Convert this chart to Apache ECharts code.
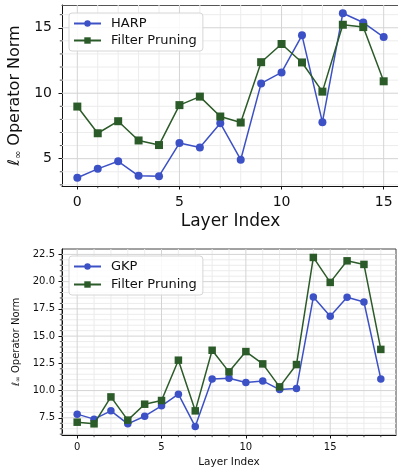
<!DOCTYPE html>
<html>
<head>
<meta charset="utf-8">
<script src="https://cdn.jsdelivr.net/npm/echarts@6/dist/echarts.min.js"></script>
<style>
  html, body { margin: 0; padding: 0; background: #ffffff; }
  #chart { width: 398px; height: 468px; }
</style>
</head>
<body>
<div id="chart"></div>
<script>
// Layer-wise l-infinity operator norms
const harpLayers = [0, 1, 2, 3, 4, 5, 6, 7, 8, 9, 10, 11, 12, 13, 14, 15];
const harpNorm = [3.54, 4.22, 4.80, 3.69, 3.66, 6.19, 5.86, 7.71, 4.92, 10.75, 11.59, 14.42, 7.79, 16.11, 15.40, 14.29];
const harpFilterNorm = [8.98, 6.94, 7.86, 6.39, 6.04, 9.09, 9.74, 8.22, 7.76, 12.37, 13.76, 12.35, 10.12, 15.23, 15.05, 10.91];

const gkpLayers = [0, 1, 2, 3, 4, 5, 6, 7, 8, 9, 10, 11, 12, 13, 14, 15, 16, 17, 18];
const gkpNorm = [7.84, 7.38, 8.14, 6.95, 7.65, 8.60, 9.67, 6.70, 11.07, 11.14, 10.74, 10.89, 10.09, 10.19, 18.58, 16.82, 18.56, 18.13, 11.07];
const gkpFilterNorm = [7.10, 6.95, 9.42, 7.29, 8.75, 9.09, 12.79, 8.14, 13.70, 11.72, 13.58, 12.45, 10.34, 12.39, 22.22, 19.93, 21.91, 21.58, 13.78];

// Tick labels
const topXTicks = [0, 5, 10, 15];
const topYTicks = [5, 10, 15];
const bottomXTicks = [0, 5, 10, 15];
const bottomYTicks = [7.5, 10, 12.5, 15, 17.5, 20, 22.5];

const FONT = 'DejaVu Sans';
const BLUE = '#3d51c6';
const GREEN = '#2b5b28';

// Axis range with a 5% margin on each side
function padded(values) {
  const lo = Math.min(...values), hi = Math.max(...values);
  const m = (hi - lo) * 0.05;
  return [lo - m, hi + m];
}

// Minor tick positions: multiples of step inside [lo, hi] that are not major ticks
function minorTicks(range, step, majors) {
  const out = [];
  const start = Math.ceil(range[0] / step - 1e-9);
  const end = Math.floor(range[1] / step + 1e-9);
  for (let k = start; k <= end; k++) {
    const v = +(k * step).toFixed(6);
    if (!majors.some(m => Math.abs(m - v) < 1e-6)) out.push(v);
  }
  return out;
}

const topX = padded(harpLayers);
const topY = padded(harpNorm.concat(harpFilterNorm));
const botX = padded(gkpLayers);
const botY = padded(gkpNorm.concat(gkpFilterNorm));

// Grid lines (major + minor) and minor tick marks drawn in data space
function gridLines(idx, xMajor, yMajor, xMinor, yMinor) {
  const data = [];
  xMinor.forEach(v => data.push([v, 0, 0]));
  yMinor.forEach(v => data.push([v, 1, 0]));
  xMajor.forEach(v => data.push([v, 0, 1]));
  yMajor.forEach(v => data.push([v, 1, 1]));
  return {
    type: 'custom',
    xAxisIndex: idx,
    yAxisIndex: idx,
    silent: true,
    z: 1,
    clip: false,
    data: data,
    renderItem: function (params, api) {
      const cs = params.coordSys;
      const v = api.value(0), orient = api.value(1), major = api.value(2);
      const stroke = major ? '#d4d4d4' : '#ececec';
      const children = [];
      if (orient === 0) {
        const x = api.coord([v, (idx === 0 ? topY : botY)[0]])[0];
        children.push({ type: 'line', shape: { x1: x, y1: cs.y, x2: x, y2: cs.y + cs.height },
          style: { stroke: stroke, lineWidth: 1 } });
        if (!major) {
          children.push({ type: 'line', shape: { x1: x, y1: cs.y + cs.height, x2: x, y2: cs.y + cs.height + 2.2 },
            style: { stroke: '#222', lineWidth: 0.8 } });
        }
      } else {
        const y = api.coord([(idx === 0 ? topX : botX)[0], v])[1];
        children.push({ type: 'line', shape: { x1: cs.x, y1: y, x2: cs.x + cs.width, y2: y },
          style: { stroke: stroke, lineWidth: 1 } });
        if (!major) {
          children.push({ type: 'line', shape: { x1: cs.x - 2.2, y1: y, x2: cs.x, y2: y },
            style: { stroke: '#222', lineWidth: 0.8 } });
        }
      }
      return { type: 'group', children: children };
    }
  };
}

function pairs(xs, ys) { return xs.map((x, i) => [x, ys[i]]); }

function yName(size, subSize, sub) {
  return {
    name: '{l|ℓ}{s|∞}{t| Operator Norm}',
    nameTextStyle: {
      fontFamily: FONT, fontSize: size, color: '#111',
      rich: {
        l: { fontFamily: FONT, fontSize: size, color: '#111' },
        s: { fontFamily: FONT, fontSize: subSize, color: '#111', verticalAlign: 'bottom', padding: [sub, 0, 0, 0] },
        t: { fontFamily: FONT, fontSize: size, color: '#111' }
      }
    }
  };
}

const chart = echarts.init(document.getElementById('chart'), null, { renderer: 'canvas' });

const legendBase = {
  orient: 'vertical',
  itemWidth: 27,
  itemHeight: 8,
  itemGap: 4,
  padding: [4, 6, 4, 4],
  backgroundColor: 'rgba(255,255,255,0.85)',
  borderColor: '#d6d6d6',
  borderWidth: 1,
  borderRadius: 3,
  textStyle: { fontFamily: FONT, fontSize: 13, color: '#111', padding: [0, 0, 0, 5] }
};

const topYN = yName(16, 10, 7);
const botYN = yName(10, 7, 4);

chart.setOption({
  animation: false,
  backgroundColor: '#ffffff',
  grid: [
    { left: 62, top: 5, width: 337, height: 181, show: true, borderWidth: 0, backgroundColor: '#fff',
      outerBoundsMode: 'none', containLabel: false },
    { left: 62, top: 249, width: 334, height: 186, show: true, borderColor: '#444', borderWidth: 1, backgroundColor: '#fff',
      outerBoundsMode: 'none', containLabel: false }
  ],
  legend: [
    Object.assign({}, legendBase, { left: 69, top: 13, data: ['HARP', 'Filter Pruning'] }),
    Object.assign({}, legendBase, { left: 69, top: 256, itemGap: 5, data: ['GKP', 'Filter Pruning'] })
  ],
  xAxis: [
    {
      type: 'value', gridIndex: 0, min: topX[0], max: topX[1],
      name: 'Layer Index', nameLocation: 'middle', nameGap: 27,
      nameTextStyle: { fontFamily: FONT, fontSize: 17, color: '#111' },
      axisLine: { show: true, onZero: false, lineStyle: { color: '#111', width: 1 } },
      axisTick: { show: true, customValues: topXTicks, length: 3.5, lineStyle: { color: '#111' } },
      axisLabel: { customValues: topXTicks, margin: 9, fontFamily: FONT, fontSize: 14, color: '#111' },
      splitLine: { show: false }
    },
    {
      type: 'value', gridIndex: 1, min: botX[0], max: botX[1],
      name: 'Layer Index', nameLocation: 'middle', nameGap: 22,
      nameTextStyle: { fontFamily: FONT, fontSize: 10.5, color: '#111' },
      axisLine: { show: true, onZero: false, lineStyle: { color: '#111', width: 1 } },
      axisTick: { show: true, customValues: bottomXTicks, length: 3.5, lineStyle: { color: '#111' } },
      axisLabel: { customValues: bottomXTicks, margin: 7, fontFamily: FONT, fontSize: 10, color: '#111' },
      splitLine: { show: false }
    },
    {
      // top spine of the upper panel
      type: 'value', gridIndex: 0, position: 'top', min: topX[0], max: topX[1],
      axisLine: { show: true, onZero: false, lineStyle: { color: '#555', width: 1.2 } },
      axisTick: { show: false }, axisLabel: { show: false }, splitLine: { show: false }
    }
  ],
  yAxis: [
    Object.assign({
      type: 'value', gridIndex: 0, min: topY[0], max: topY[1],
      nameLocation: 'middle', nameGap: 32,
      axisLine: { show: true, onZero: false, lineStyle: { color: '#111', width: 1 } },
      axisTick: { show: true, customValues: topYTicks, length: 3.5, lineStyle: { color: '#111' } },
      axisLabel: { customValues: topYTicks, margin: 10, fontFamily: FONT, fontSize: 14, color: '#111' },
      splitLine: { show: false }
    }, topYN),
    Object.assign({
      type: 'value', gridIndex: 1, min: botY[0], max: botY[1],
      nameLocation: 'middle', nameGap: 40,
      axisLine: { show: true, onZero: false, lineStyle: { color: '#111', width: 1 } },
      axisTick: { show: true, customValues: bottomYTicks, length: 3.5, lineStyle: { color: '#111' } },
      axisLabel: { customValues: bottomYTicks, margin: 7, fontFamily: FONT, fontSize: 10, color: '#111',
        formatter: v => v.toFixed(1) },
      splitLine: { show: false }
    }, botYN)
  ],
  series: [
    gridLines(0, topXTicks, topYTicks, minorTicks(topX, 1, topXTicks), minorTicks(topY, 1, topYTicks)),
    gridLines(1, bottomXTicks, bottomYTicks, minorTicks(botX, 1, bottomXTicks), minorTicks(botY, 0.5, bottomYTicks)),
    {
      name: 'HARP', type: 'line', xAxisIndex: 0, yAxisIndex: 0, z: 3,
      data: pairs(harpLayers, harpNorm),
      symbol: 'circle', symbolSize: 8,
      lineStyle: { color: BLUE, width: 1.5 }, itemStyle: { color: BLUE }
    },
    {
      name: 'Filter Pruning', type: 'line', xAxisIndex: 0, yAxisIndex: 0, z: 4,
      data: pairs(harpLayers, harpFilterNorm),
      symbol: 'rect', symbolSize: 8,
      lineStyle: { color: GREEN, width: 1.5 }, itemStyle: { color: GREEN }
    },
    {
      name: 'GKP', type: 'line', xAxisIndex: 1, yAxisIndex: 1, z: 3,
      data: pairs(gkpLayers, gkpNorm),
      symbol: 'circle', symbolSize: 7.5,
      lineStyle: { color: BLUE, width: 1.5 }, itemStyle: { color: BLUE }
    },
    {
      name: 'Filter Pruning', type: 'line', xAxisIndex: 1, yAxisIndex: 1, z: 4,
      data: pairs(gkpLayers, gkpFilterNorm),
      symbol: 'rect', symbolSize: 7.5,
      lineStyle: { color: GREEN, width: 1.5 }, itemStyle: { color: GREEN }
    }
  ]
});
</script>
</body>
</html>
